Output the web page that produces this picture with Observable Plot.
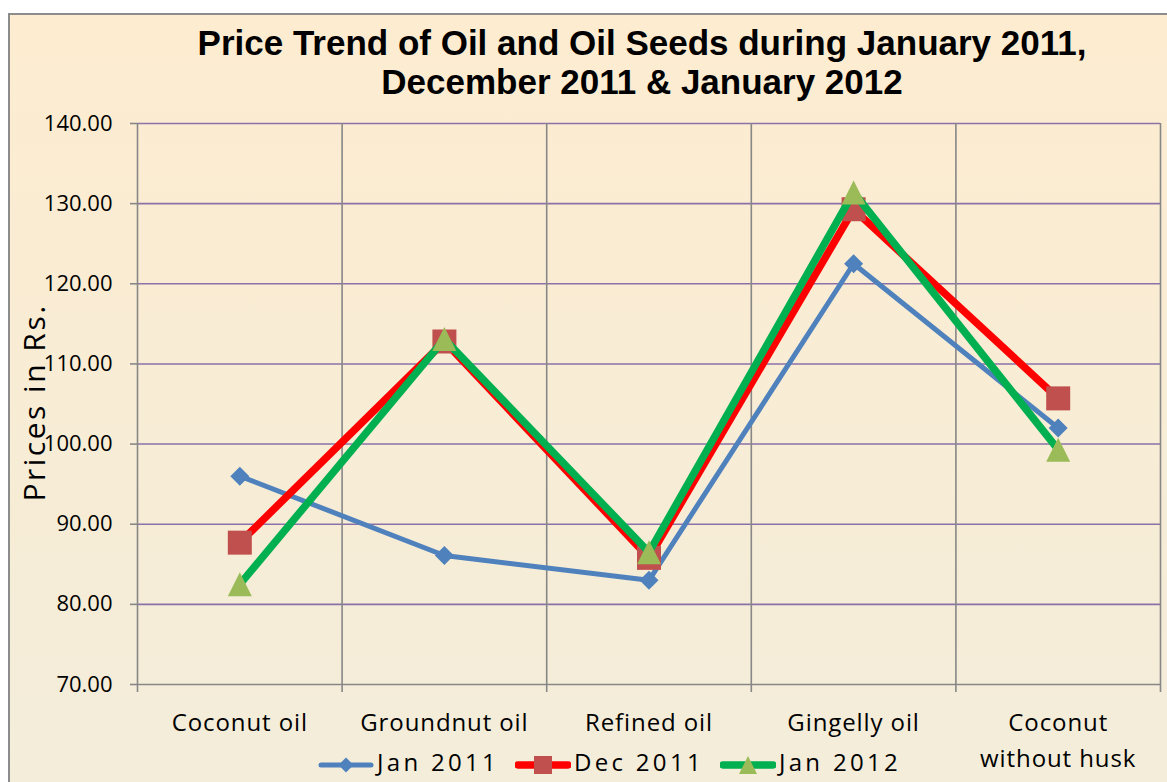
<!DOCTYPE html>
<html>
<head>
<meta charset="utf-8">
<script src="https://cdn.jsdelivr.net/npm/d3@7"></script>
<script src="https://cdn.jsdelivr.net/npm/@observablehq/plot@0.6"></script>
<style>
  html, body { margin: 0; padding: 0; background: #fff; overflow: hidden; width: 1167px; height: 782px; }
  #frame { position: absolute; left: 8px; top: 13px; width: 1170px; height: 780px;
           border: 2px solid #8c8c8c; box-sizing: border-box;
           background: linear-gradient(#fdecd0, #f3edda); }
  #title { position: absolute; left: 142px; top: 23px; width: 1000px; text-align: center;
           font-family: "Liberation Sans", Arial, sans-serif; font-weight: bold; font-size: 35px;
           line-height: 39px; color: #000; white-space: nowrap; }
  #ytitle { position: absolute; left: -97px; top: 382px; width: 260px; height: 41px; line-height: 41px;
            text-align: center; transform: rotate(-90deg); font-family: "Open Sans", sans-serif;
            font-size: 30px; letter-spacing: 2.5px; color: #000; white-space: nowrap; }
  #chart { position: absolute; left: 0; top: 0; }
  #legend { position: absolute; left: 318px; top: 750px; height: 30px; display: flex; align-items: center;
            font-family: "Open Sans", sans-serif; font-size: 24px; letter-spacing: 3.3px; color: #000; }
  #legend .item { display: flex; align-items: center; margin-right: 16px; }
  #legend span { position: relative; top: -3px; margin-left: 3px; line-height: 30px; }
</style>
</head>
<body>
<div id="frame"></div>
<div id="chart"></div>
<div id="title">Price Trend of Oil and Oil Seeds during January 2011,<br>December 2011 &amp; January 2012</div>
<div id="ytitle">Prices in Rs.</div>
<div id="legend"></div>
<script>
const categories = ["Coconut oil", "Groundnut oil", "Refined oil", "Gingelly oil", "Coconut\nwithout husk"];
const jan2011 = [96.0, 86.1, 83.0, 122.5, 102.0];
const dec2011 = [87.7, 112.8, 85.8, 129.3, 105.7];
const jan2012 = [82.5, 113.1, 86.5, 131.4, 99.3];
const yTicks = [70, 80, 90, 100, 110, 120, 130, 140];
const seriesNames = ["Jan 2011", "Dec 2011", "Jan 2012"];

// custom symbols: sqrt(size) = full width of the marker
const diamond = { draw(ctx, size) { const a = Math.sqrt(size) / 2; ctx.moveTo(0, -a); ctx.lineTo(a, 0); ctx.lineTo(0, a); ctx.lineTo(-a, 0); ctx.closePath(); } };
const square = { draw(ctx, size) { const a = Math.sqrt(size) / 2; ctx.moveTo(-a, -a); ctx.lineTo(a, -a); ctx.lineTo(a, a); ctx.lineTo(-a, a); ctx.closePath(); } };
const triangle = { draw(ctx, size) { const a = Math.sqrt(size) / 2; ctx.moveTo(0, -a); ctx.lineTo(a, a); ctx.lineTo(-a, a); ctx.closePath(); } };
const rOf = w => w / Math.sqrt(Math.PI);

const series = [
  { name: seriesNames[0], values: jan2011, line: "#4f81bd", marker: "#4f81bd", lw: 5, symbol: diamond, w: 19, lgw: 15 },
  { name: seriesNames[1], values: dec2011, line: "#ff0000", marker: "#c0504d", lw: 7.5, symbol: square, w: 24, lgw: 18 },
  { name: seriesNames[2], values: jan2012, line: "#00b050", marker: "#9bbb59", lw: 7.5, symbol: triangle, w: 24, lgw: 18 }
];

const boundaries = d3.range(categories.length + 1).map(i => i - 0.5);

const seriesMarks = series.flatMap(s => {
  const data = s.values.map((v, i) => ({ i, v }));
  return [
    Plot.line(data, { x: "i", y: "v", stroke: s.line, strokeWidth: s.lw, strokeLinejoin: "round", strokeLinecap: "round" }),
    Plot.dot(data, { x: "i", y: "v", symbol: () => s.symbol, r: rOf(s.w), fill: s.marker, stroke: "none" })
  ];
});

const chart = Plot.plot({
  width: 1167, height: 782,
  marginLeft: 137, marginRight: 7, marginTop: 123, marginBottom: 98,
  style: { background: "transparent", fontFamily: "Open Sans, sans-serif", color: "#000", overflow: "visible" },
  x: { type: "linear", domain: [-0.5, categories.length - 0.5], axis: null },
  y: { domain: [70, 140], axis: null },
  symbol: { type: "identity" },
  marks: [
    Plot.ruleY(yTicks.filter(v => v > 70), { x1: -0.5, x2: categories.length - 0.5, stroke: "#8a72a8", strokeWidth: 1.6 }),
    Plot.ruleX(boundaries, { y1: 140, y2: 69, stroke: "#878787", strokeWidth: 1.6 }),
    Plot.ruleY([70], { x1: -0.5, x2: categories.length - 0.5, stroke: "#878787", strokeWidth: 1.6 }),
    Plot.axisY({ ticks: yTicks, tickSize: 7, tickPadding: 18, tickFormat: d => d.toFixed(2), fontSize: 22, stroke: "#878787", strokeWidth: 1.6, fill: "#000", label: null }),
    Plot.text(categories, { x: (d, i) => i, y: 70, dy: 21, lineAnchor: "top", fontSize: 24, lineHeight: 1.5, text: d => d, fill: "#000" }),
    ...seriesMarks
  ]
});
document.getElementById("chart").appendChild(chart);
d3.select(chart).selectAll('g[aria-label="text"] text').style("letter-spacing", "0.9px");

// legend
const legend = d3.select("#legend");
series.forEach(s => {
  const item = legend.append("div").attr("class", "item");
  const svg = item.append("svg").attr("width", 56).attr("height", 30);
  svg.append("line").attr("x1", 3).attr("x2", 53).attr("y1", 15).attr("y2", 15)
    .attr("stroke", s.line).attr("stroke-width", s.lw).attr("stroke-linecap", "round");
  const sz = s.lgw * s.lgw;
  svg.append("path").attr("transform", "translate(28,15)")
    .attr("d", d3.symbol(s.symbol, sz)()).attr("fill", s.marker);
  item.append("span").text(s.name);
});
</script>
</body>
</html>
